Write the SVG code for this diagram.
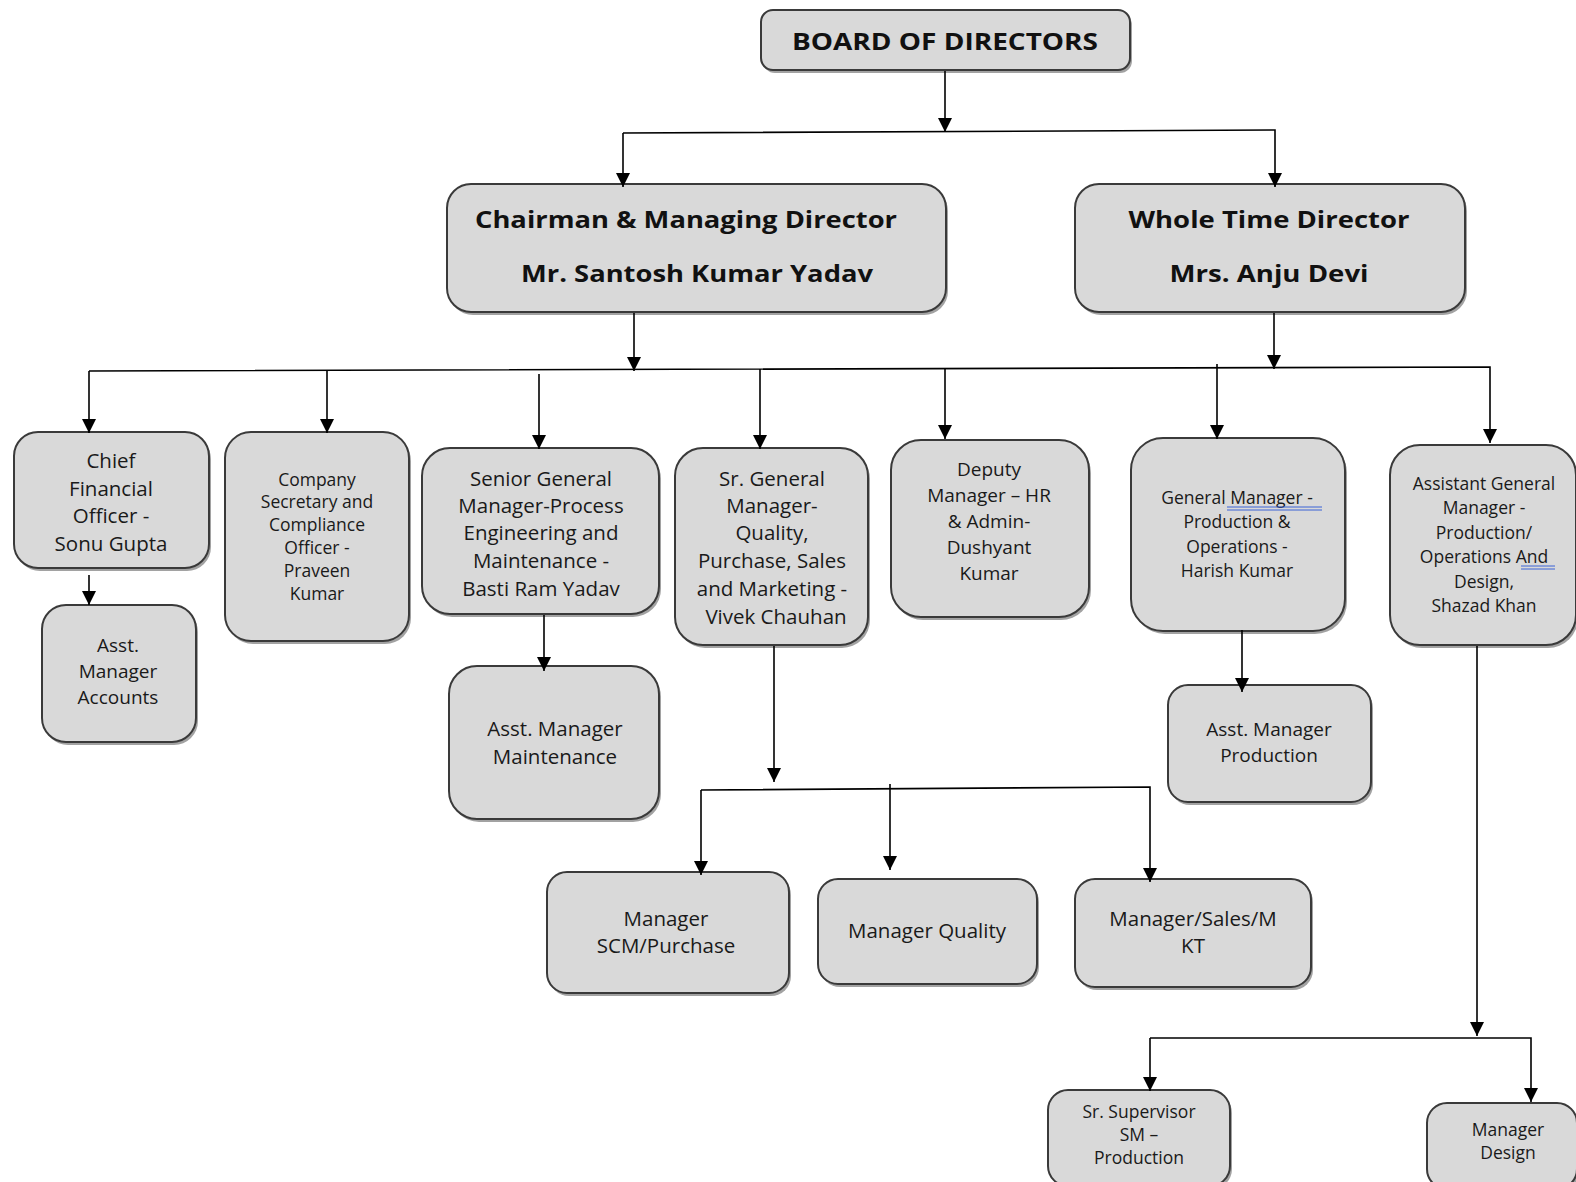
<svg xmlns="http://www.w3.org/2000/svg" width="1576" height="1182" viewBox="0 0 1576 1182">
<defs>
<marker id="ah" markerUnits="userSpaceOnUse" markerWidth="14" markerHeight="14" viewBox="0 0 10 10" refX="10" refY="5" orient="auto">
<path d="M0,0 L10,5 L0,10 z" fill="#000"/>
</marker>
</defs>
<style>
.bx{fill:#d9d9d9;stroke:#3a3a3a;stroke-width:2}
.sh{fill:#555;opacity:.55}
.t{font-family:"Open Sans","DejaVu Sans",sans-serif;font-size:20.5px;fill:#1a1a1a;text-anchor:middle;dominant-baseline:central}
.m{font-size:19px}
.s{font-size:17.5px}
.b{font-weight:bold;font-size:24px;fill:#111}
.c path{fill:none;stroke:#000;stroke-width:1.6}
.u{stroke:#3b63d6;stroke-width:1;fill:none}
</style>
<rect width="1576" height="1182" fill="#fff"/>
<g id="board">
<rect class="sh" x="763" y="13" width="369" height="60" rx="12"/>
<rect class="bx" x="761" y="10" width="369" height="60" rx="12"/>
<text class="t b" x="945" y="40" textLength="306" lengthAdjust="spacingAndGlyphs">BOARD OF DIRECTORS</text>
</g>
<g id="cmd">
<rect class="sh" x="449" y="187" width="499" height="128" rx="24"/>
<rect class="bx" x="447" y="184" width="499" height="128" rx="24"/>
<text class="t b" x="686" y="218" textLength="422" lengthAdjust="spacingAndGlyphs">Chairman &amp; Managing Director</text>
<text class="t b" x="697" y="272" textLength="352" lengthAdjust="spacingAndGlyphs">Mr. Santosh Kumar Yadav</text>
</g>
<g id="wtd">
<rect class="sh" x="1077" y="187" width="390" height="128" rx="24"/>
<rect class="bx" x="1075" y="184" width="390" height="128" rx="24"/>
<text class="t b" x="1269" y="218" textLength="281" lengthAdjust="spacingAndGlyphs">Whole Time Director</text>
<text class="t b" x="1269" y="272" textLength="199" lengthAdjust="spacingAndGlyphs">Mrs. Anju Devi</text>
</g>
<g id="cfo">
<rect class="sh" x="16" y="435" width="195" height="136" rx="24"/>
<rect class="bx" x="14" y="432" width="195" height="136" rx="24"/>
<text class="t" x="111" y="460">Chief</text>
<text class="t" x="111" y="488">Financial</text>
<text class="t" x="111" y="515">Officer -</text>
<text class="t" x="111" y="543">Sonu Gupta</text>
</g>
<g id="asst-accounts">
<rect class="sh" x="44" y="608" width="154" height="137" rx="24"/>
<rect class="bx" x="42" y="605" width="154" height="137" rx="24"/>
<text class="t m" x="118" y="645">Asst.</text>
<text class="t m" x="118" y="671">Manager</text>
<text class="t m" x="118" y="697">Accounts</text>
</g>
<g id="cs">
<rect class="sh" x="227" y="435" width="184" height="209" rx="26"/>
<rect class="bx" x="225" y="432" width="184" height="209" rx="26"/>
<text class="t s" x="317" y="479">Company</text>
<text class="t s" x="317" y="501">Secretary and</text>
<text class="t s" x="317" y="524">Compliance</text>
<text class="t s" x="317" y="547">Officer -</text>
<text class="t s" x="317" y="570">Praveen</text>
<text class="t s" x="317" y="593">Kumar</text>
</g>
<g id="sgm-process">
<rect class="sh" x="424" y="451" width="237" height="166" rx="28"/>
<rect class="bx" x="422" y="448" width="237" height="166" rx="28"/>
<text class="t" x="541" y="478">Senior General</text>
<text class="t" x="541" y="505">Manager-Process</text>
<text class="t" x="541" y="532">Engineering and</text>
<text class="t" x="541" y="560">Maintenance -</text>
<text class="t" x="541" y="588">Basti Ram Yadav</text>
</g>
<g id="asst-maintenance">
<rect class="sh" x="451" y="669" width="210" height="153" rx="28"/>
<rect class="bx" x="449" y="666" width="210" height="153" rx="28"/>
<text class="t" x="555" y="728">Asst. Manager</text>
<text class="t" x="555" y="756">Maintenance</text>
</g>
<g id="sgm-quality">
<rect class="sh" x="677" y="451" width="193" height="197" rx="28"/>
<rect class="bx" x="675" y="448" width="193" height="197" rx="28"/>
<text class="t" x="772" y="478">Sr. General</text>
<text class="t" x="772" y="505">Manager-</text>
<text class="t" x="772" y="532">Quality,</text>
<text class="t" x="772" y="560">Purchase, Sales</text>
<text class="t" x="772" y="588">and Marketing -</text>
<text class="t" x="776" y="616">Vivek Chauhan</text>
</g>
<g id="mgr-scm">
<rect class="sh" x="549" y="875" width="242" height="121" rx="20"/>
<rect class="bx" x="547" y="872" width="242" height="121" rx="20"/>
<text class="t" x="666" y="918">Manager</text>
<text class="t" x="666" y="945">SCM/Purchase</text>
</g>
<g id="mgr-quality">
<rect class="sh" x="820" y="882" width="219" height="105" rx="20"/>
<rect class="bx" x="818" y="879" width="219" height="105" rx="20"/>
<text class="t" x="927" y="930">Manager Quality</text>
</g>
<g id="mgr-sales">
<rect class="sh" x="1077" y="882" width="236" height="108" rx="20"/>
<rect class="bx" x="1075" y="879" width="236" height="108" rx="20"/>
<text class="t" x="1193" y="918">Manager/Sales/M</text>
<text class="t" x="1193" y="945">KT</text>
</g>
<g id="dm-hr">
<rect class="sh" x="893" y="443" width="198" height="177" rx="30"/>
<rect class="bx" x="891" y="440" width="198" height="177" rx="30"/>
<text class="t m" x="989" y="469">Deputy</text>
<text class="t m" x="989" y="495">Manager – HR</text>
<text class="t m" x="989" y="521">&amp; Admin-</text>
<text class="t m" x="989" y="547">Dushyant</text>
<text class="t m" x="989" y="573">Kumar</text>
</g>
<g id="gm-production">
<rect class="sh" x="1133" y="441" width="214" height="193" rx="32"/>
<rect class="bx" x="1131" y="438" width="214" height="193" rx="32"/>
<text class="t s" x="1237" y="497">General Manager  -</text>
<path class="u" d="M1227,507 H1322 M1227,510 H1322"/>
<text class="t s" x="1237" y="521">Production &amp;</text>
<text class="t s" x="1237" y="546">Operations -</text>
<text class="t s" x="1237" y="570">Harish Kumar</text>
</g>
<g id="asst-production">
<rect class="sh" x="1170" y="688" width="203" height="117" rx="20"/>
<rect class="bx" x="1168" y="685" width="203" height="117" rx="20"/>
<text class="t m" x="1269" y="729">Asst. Manager</text>
<text class="t m" x="1269" y="755">Production</text>
</g>
<g id="agm">
<rect class="sh" x="1392" y="448" width="186" height="200" rx="30"/>
<rect class="bx" x="1390" y="445" width="186" height="200" rx="30"/>
<text class="t s" x="1484" y="483">Assistant General</text>
<text class="t s" x="1484" y="507">Manager -</text>
<text class="t s" x="1484" y="532">Production/</text>
<text class="t s" x="1484" y="556">Operations And</text>
<path class="u" d="M1521,566 H1555 M1521,569 H1555"/>
<text class="t s" x="1484" y="581">Design,</text>
<text class="t s" x="1484" y="605">Shazad Khan</text>
</g>
<g id="sr-supervisor">
<rect class="sh" x="1050" y="1093" width="182" height="96" rx="20"/>
<rect class="bx" x="1048" y="1090" width="182" height="96" rx="20"/>
<text class="t s" x="1139" y="1111">Sr. Supervisor</text>
<text class="t s" x="1139" y="1134">SM –</text>
<text class="t s" x="1139" y="1157">Production</text>
</g>
<g id="mgr-design">
<rect class="sh" x="1429" y="1106" width="150" height="86" rx="20"/>
<rect class="bx" x="1427" y="1103" width="150" height="86" rx="20"/>
<text class="t s" x="1508" y="1129">Manager</text>
<text class="t s" x="1508" y="1152">Design</text>
</g>
<g class="c" id="connectors">
<path d="M945,71 V132" marker-end="url(#ah)"/>
<path d="M623,133 L1275,130 V187" marker-end="url(#ah)"/>
<path d="M623,133 V187" marker-end="url(#ah)"/>
<path d="M634,313 V371" marker-end="url(#ah)"/>
<path d="M1274,313 V369" marker-end="url(#ah)"/>
<path d="M89,371 L1490,367 V443" marker-end="url(#ah)"/>
<path d="M89,371 V433" marker-end="url(#ah)"/>
<path d="M327,370 V433" marker-end="url(#ah)"/>
<path d="M539,374 V449" marker-end="url(#ah)"/>
<path d="M760,369 V449" marker-end="url(#ah)"/>
<path d="M945,368 V439" marker-end="url(#ah)"/>
<path d="M1217,364 V439" marker-end="url(#ah)"/>
<path d="M89,575 V605" marker-end="url(#ah)"/>
<path d="M544,615 V671" marker-end="url(#ah)"/>
<path d="M774,646 V782" marker-end="url(#ah)"/>
<path d="M701,790 L1150,787 V882" marker-end="url(#ah)"/>
<path d="M701,790 V875" marker-end="url(#ah)"/>
<path d="M890,784 V870" marker-end="url(#ah)"/>
<path d="M1242,630 V692" marker-end="url(#ah)"/>
<path d="M1477,646 V1036" marker-end="url(#ah)"/>
<path d="M1150,1038 H1531 V1102" marker-end="url(#ah)"/>
<path d="M1150,1038 V1091" marker-end="url(#ah)"/>
</g>
</svg>
